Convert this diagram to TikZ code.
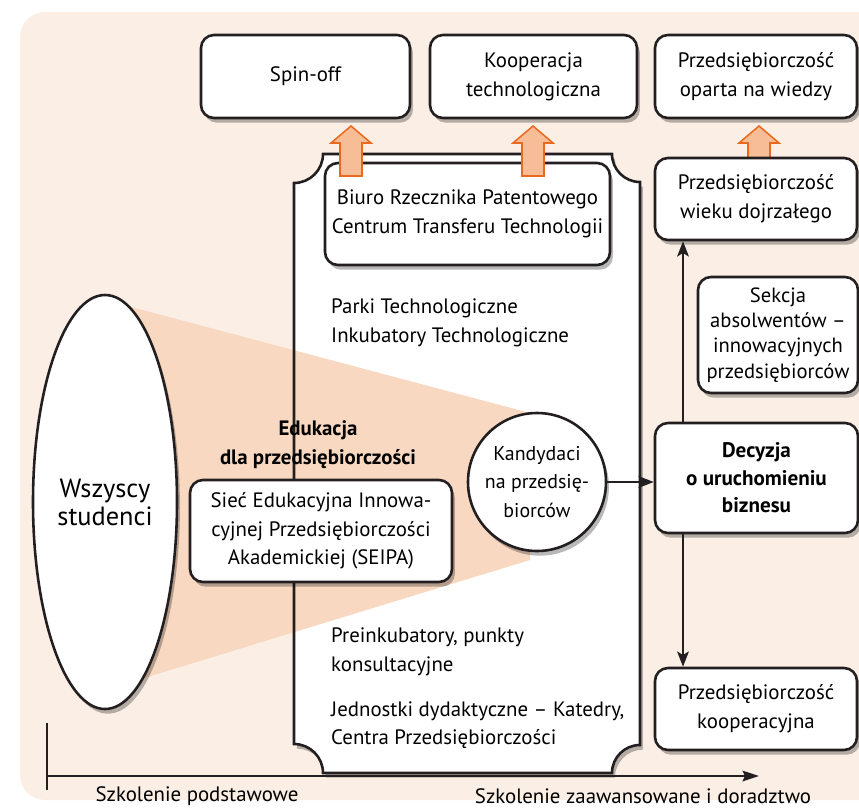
\documentclass[tikz,border=0pt]{standalone}
\usepackage{fontspec}
\setmainfont{PT Sans}
\usetikzlibrary{calc,shapes.geometric,shadows,arrows.meta}
\definecolor{bgpeach}{RGB}{251,238,229}
\definecolor{conepeach}{RGB}{248,216,193}
\definecolor{arrowfill}{RGB}{246,189,150}
\definecolor{arrowedge}{RGB}{233,106,31}
\definecolor{ink}{RGB}{35,31,32}
\def\txt{\fontsize{17.8}{24.5}\selectfont}
\def\framepath{(323,-154) -- (612,-154) arc (180:270:28) -- (640,-745) arc (90:180:28) -- (323,-773) arc (0:90:29) -- (294,-183) arc (270:360:29) -- cycle}
\def\upblock(#1)(#2){\draw[blockarrow] ($(#1)+(-11,0)$) -- ($(#1|-#2)+(-11,-17)$) -- ($(#1|-#2)+(-20,-17)$) -- (#1|-#2) -- ($(#1|-#2)+(20,-17)$) -- ($(#1|-#2)+(11,-17)$) -- ($(#1)+(11,0)$) -- cycle;}

\begin{document}
\begin{tikzpicture}[x=0.03cm, y=0.03cm,
    softshadow/.style={drop shadow={shadow xshift=2.5pt, shadow yshift=-4pt, opacity=0.28, fill=black}},
    box/.style={draw=ink, line width=2.2pt, fill=white, rounded corners=0.39cm, align=center, font=\txt, inner sep=0pt, softshadow},
    blockarrow/.style={draw=arrowedge, line width=1.3pt, fill=arrowfill, line join=miter},
    link/.style={draw=ink, line width=1.7pt, -{Stealth[length=13pt, width=10pt, inset=3pt]}},
    plain/.style={font=\txt, inner sep=0pt, align=left, anchor=west}]
	%%%%% START %%%%%
	\useasboundingbox (0,0) rectangle (859,-808);
	\clip (0,0) rectangle (859,-808);
	
	\fill[bgpeach, rounded corners=0.75cm] (20,-12) rectangle (900,-800);
	
	% frame of the university units
	\fill[white, softshadow] \framepath;
	\fill[conepeach] (105,-300) -- (530,-413) -- (530,-560) -- (105,-690) -- cycle;
	\draw[ink, line width=2.2pt] \framepath;
	
	\node[plain] (parki) at (331,-323) {Parki Technologiczne\\Inkubatory Technologiczne};
	\node[plain] (preink) at (331,-652) {Preinkubatory, punkty\\konsultacyjne};
	\node[plain] (jedn) at (331,-725) {Jednostki dydaktyczne -- Katedry,\\Centra Przedsiębiorczości};
	\node[font=\txt\bfseries, align=center, inner sep=0pt] (edu) at (318,-445) {Edukacja\\dla przedsiębiorczości};
	
	\node[box, minimum width=8.55cm, minimum height=3.06cm] (biuro) at (467.5,-214) {Biuro Rzecznika Patentowego\\Centrum Transferu Technologii};
	\node[box, minimum width=7.86cm, minimum height=3.06cm] (seipa) at (321,-531) {Sieć Edukacyjna Innowa-\\cyjnej Przedsiębiorczości\\Akademickiej (SEIPA)};
	
	\node[draw=ink, line width=2.2pt, fill=white, ellipse, minimum width=4.32cm, minimum height=12.42cm, inner sep=0pt, softshadow, align=center, font=\fontsize{22.5}{24}\selectfont] (studenci) at (105,-502) {Wszyscy\\studenci};
	\node[draw=ink, line width=2.2pt, fill=white, circle, minimum size=4.14cm, inner sep=0pt, softshadow, align=center, font=\fontsize{17}{24.5}\selectfont] (kand) at (537,-482) {Kandydaci\\na przedsię-\\biorców};
	
	% outcomes
	\upblock(759,-159)(759,-126)
	\node[box, minimum width=6.27cm, minimum height=2.49cm] (spin) at (305.5,-76.5) {Spin-off};
	\node[box, minimum width=6.21cm, minimum height=2.49cm] (koop) at (533.5,-76.5) {Kooperacja\\technologiczna};
	\node[box, minimum width=6.06cm, minimum height=2.49cm] (wiedza) at (756,-76.5) {Przedsiębiorczość\\oparta na wiedzy};
	\node[box, minimum width=6.06cm, minimum height=2.46cm] (dojrz) at (756,-199) {Przedsiębiorczość\\wieku dojrzałego};
	\node[box, minimum width=4.8cm, minimum height=3.48cm, font=\fontsize{17.6}{21.5}\selectfont] (sekcja) at (778,-335) {Sekcja\\absolwentów --\\innowacyjnych\\przedsiębiorców};
	\node[box, minimum width=6.09cm, minimum height=3.3cm, font=\fontsize{18}{23.5}\selectfont\bfseries] (decyzja) at (756.5,-478) {Decyzja\\o uruchomieniu\\biznesu};
	\node[box, minimum width=6.06cm, minimum height=2.46cm] (koopcyj) at (756,-709) {Przedsiębiorczość\\kooperacyjna};
	
	\coordinate (riser) at (683,0);
	\draw[link] (kand.east) -- (kand.east -| decyzja.west);
	\draw[link] (decyzja.north -| riser) -- (dojrz.south -| riser);
	\draw[link] (decyzja.south -| riser) -- (koopcyj.north -| riser);
	
	\upblock(351,-176)(351,-126)
	\upblock(533,-176)(533,-126)
	
	% axis
	\coordinate (ax0) at (47,-776);
	\coordinate (ax1) at (759,-776);
	\draw[ink, line width=1.5pt] (47,-723) -- (47,-790);
	\draw[ink, line width=1.7pt, -{Stealth[length=14pt, width=9pt, inset=2pt]}] (ax0) -- (ax1);
	\node[font=\txt, inner sep=0pt] (basic) at (197,-796) {Szkolenie podstawowe};
	\node[font=\txt, inner sep=0pt] (advanced) at (643,-796) {Szkolenie zaawansowane i doradztwo};
	%%%%% END %%%%%
\end{tikzpicture}
\end{document}
